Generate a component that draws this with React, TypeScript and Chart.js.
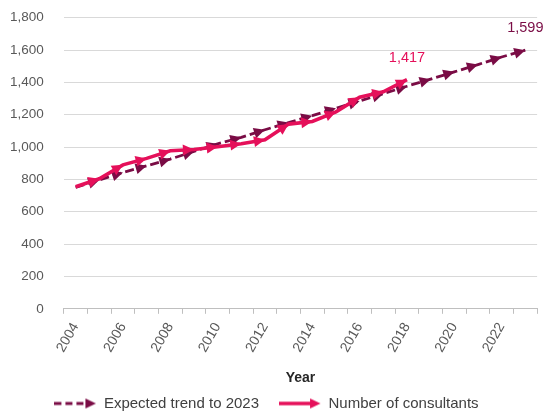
import React, { useEffect, useRef } from "react";
import { Chart, registerables } from "chart.js";

Chart.register(...registerables);

const years = [
  "2004", "2005", "2006", "2007", "2008", "2009", "2010", "2011", "2012", "2013",
  "2014", "2015", "2016", "2017", "2018", "2019", "2020", "2021", "2022", "2023",
];
const consultants = [755, 804, 890, 930, 977, 985, 1002, 1021, 1045, 1142, 1158, 1218, 1308, 1342, 1417];
const expectedTrend = [750, 797, 843, 884, 926, 973, 1020, 1060, 1107, 1152, 1194, 1240, 1285, 1330, 1376, 1420, 1465, 1510, 1557, 1599];
const yMin = 0;
const yMax = 1800;
const yStep = 200;
const seriesNames = ["Number of consultants", "Expected trend to 2023"];
const legendOrder = [1, 0];
const endLabels = ["1,417", "1,599"];

const PINK = "#E5105A";
const MAROON = "#7A0C45";
const FONT = "'Liberation Sans', Arial, sans-serif";

function makeLegendImage(color: string, dashed: boolean): HTMLCanvasElement {
  const c = document.createElement("canvas");
  c.width = 42;
  c.height = 14;
  const g = c.getContext("2d")!;
  g.strokeStyle = color;
  g.fillStyle = color;
  g.lineWidth = dashed ? 2.8 : 3.5;
  if (dashed) g.setLineDash([7, 4]);
  g.beginPath();
  g.moveTo(0, 7);
  g.lineTo(33, 7);
  g.stroke();
  g.setLineDash([]);
  g.beginPath();
  g.moveTo(41.5, 7);
  g.lineTo(31, 2);
  g.lineTo(31, 12);
  g.closePath();
  g.fill();
  return c;
}

const arrowPlugin = {
  id: "arrowHeads",
  afterDatasetDraw(chart: any, args: any) {
    const meta = args.meta;
    const ds = chart.data.datasets[args.index];
    const pts = meta.data;
    const ctx = chart.ctx;
    const L = 11;
    const W = 5.5;
    ctx.save();
    ctx.fillStyle = ds.borderColor;
    for (let i = 1; i < pts.length; i++) {
      const p = pts[i];
      const q = pts[i - 1];
      const a = Math.atan2(p.y - q.y, p.x - q.x);
      ctx.save();
      ctx.translate(p.x, p.y);
      ctx.rotate(a);
      ctx.beginPath();
      ctx.moveTo(0, 0);
      ctx.lineTo(-L, -W);
      ctx.lineTo(-L, W);
      ctx.closePath();
      ctx.fill();
      ctx.restore();
    }
    ctx.restore();
  },
};

const endLabelPlugin = {
  id: "endLabels",
  afterDatasetsDraw(chart: any) {
    const ctx = chart.ctx;
    ctx.save();
    ctx.font = `14.5px ${FONT}`;
    ctx.textAlign = "center";
    ctx.textBaseline = "middle";
    chart.data.datasets.forEach((ds: any, i: number) => {
      const meta = chart.getDatasetMeta(i);
      const last = meta.data[meta.data.length - 1];
      ctx.fillStyle = ds.borderColor;
      ctx.fillText(endLabels[i], last.x, last.y - 22);
    });
    ctx.restore();
  },
};

export default function App() {
  const ref = useRef<HTMLCanvasElement | null>(null);

  useEffect(() => {
    document.body.style.margin = "0";
    const canvas = ref.current;
    if (!canvas) return;
    const images = [makeLegendImage(PINK, false), makeLegendImage(MAROON, true)];
    const chart = new Chart(canvas, {
      type: "line",
      data: {
        labels: years,
        datasets: [
          {
            label: seriesNames[0],
            data: consultants,
            borderColor: PINK,
            backgroundColor: PINK,
            borderWidth: 3.6,
            pointRadius: 0,
            tension: 0,
          },
          {
            label: seriesNames[1],
            data: expectedTrend,
            borderColor: MAROON,
            backgroundColor: MAROON,
            borderWidth: 2.8,
            borderDash: [9, 4],
            pointRadius: 0,
            tension: 0,
          },
        ],
      },
      options: {
        animation: false,
        responsive: true,
        maintainAspectRatio: false,
        layout: { padding: { left: -7, right: 6, top: 17, bottom: -9 } },
        plugins: {
          tooltip: { enabled: false },
          legend: {
            position: "bottom",
            labels: {
              usePointStyle: true,
              pointStyleWidth: 42,
              padding: 20,
              color: "#404040",
              font: { family: FONT, size: 15 },
              generateLabels: () =>
                legendOrder.map((i) => ({
                  text: seriesNames[i],
                  pointStyle: images[i],
                  fillStyle: "transparent",
                  strokeStyle: "transparent",
                  lineWidth: 0,
                  hidden: false,
                  datasetIndex: i,
                  fontColor: "#404040",
                })),
            },
          },
        },
        scales: {
          x: {
            offset: true,
            grid: {
              offset: true,
              drawOnChartArea: false,
              drawTicks: true,
              tickLength: 5,
              color: "#BFBFBF",
            },
            border: { display: true, color: "#BFBFBF" },
            ticks: {
              autoSkip: false,
              minRotation: 60,
              maxRotation: 60,
              padding: 6,
              color: "#595959",
              font: { family: FONT, size: 14 },
              callback: (_v: any, idx: number) => (idx % 2 === 0 ? years[idx] : ""),
            },
            title: {
              display: true,
              text: "Year",
              color: "#262626",
              font: { family: FONT, size: 14, weight: "bold" },
              padding: { top: 9, bottom: -11 },
            },
          },
          y: {
            min: yMin,
            max: yMax,
            ticks: {
              stepSize: yStep,
              padding: 17,
              color: "#595959",
              font: { family: FONT, size: 13.5, lineHeight: 0.1 },
              callback: (v: any) => Number(v).toLocaleString("en-US"),
            },
            grid: {
              color: "#D9D9D9",
              tickLength: 3,
              tickColor: "rgba(0,0,0,0)",
              lineWidth: 1,
            },
            border: { display: false },
          },
        },
      },
      plugins: [arrowPlugin, endLabelPlugin],
    });
    return () => chart.destroy();
  }, []);

  return (
    <div style={{ position: "relative", width: 546, height: 412 }}>
      <canvas ref={ref} />
    </div>
  );
}
